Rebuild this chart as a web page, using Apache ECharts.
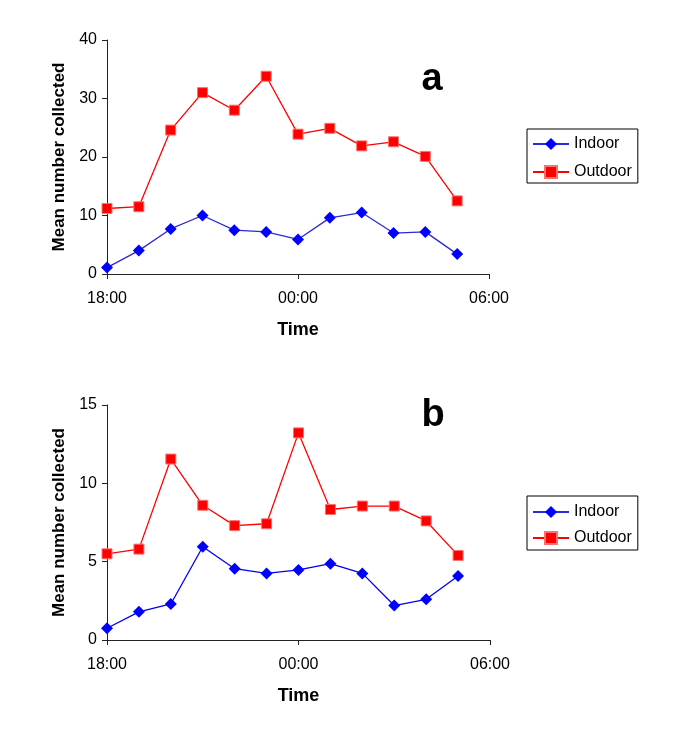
<!DOCTYPE html>
<html>
<head>
<meta charset="utf-8">
<script src="https://cdn.jsdelivr.net/npm/echarts@6/dist/echarts.min.js"></script>
<style>
html,body{margin:0;padding:0;background:#fff;}
#chart{width:685px;height:748px;}
</style>
</head>
<body>
<div id="chart"></div>
<script>
var times = ['18:00','19:00','20:00','21:00','22:00','23:00','00:00','01:00','02:00','03:00','04:00','05:00'];
var xTickLabels = ['18:00','00:00','06:00'];
var indoorA = [1.1, 4.0, 7.7, 10.0, 7.5, 7.2, 5.9, 9.6, 10.5, 7.0, 7.2, 3.4];
var outdoorA = [11.2, 11.5, 24.6, 31.0, 28.0, 33.8, 23.9, 24.9, 21.9, 22.6, 20.1, 12.5];
var indoorB = [0.75, 1.8, 2.3, 5.95, 4.55, 4.25, 4.47, 4.87, 4.25, 2.2, 2.6, 4.08];
var outdoorB = [5.5, 5.8, 11.55, 8.6, 7.3, 7.42, 13.22, 8.33, 8.55, 8.55, 7.6, 5.4];
var seriesNames = ['Indoor', 'Outdoor'];
var panelLabels = ['a', 'b'];
var yTitle = 'Mean number collected';
var xTitle = 'Time';

function hourOffset(t) {
  var h = parseInt(t.split(':')[0], 10);
  return (h - 18 + 24) % 24;
}
function pairs(vals) {
  return vals.map(function (v, i) { return [hourOffset(times[i]), v]; });
}

var FONT = 'Liberation Sans, Arial, sans-serif';
var BLUE = '#0000ff';
var RED = '#ff0000';

function xAxisDef(gi) {
  return {
    type: 'value', gridIndex: gi, min: 0, max: 12, interval: 6,
    name: xTitle, nameLocation: 'middle', nameGap: 47,
    nameTextStyle: {fontFamily: FONT, fontSize: 18, fontWeight: 'bold', color: '#000'},
    axisLine: {show: true, lineStyle: {color: '#222', width: 1}},
    axisTick: {show: true, length: 5, lineStyle: {color: '#222'}},
    axisLabel: {margin: 17, fontFamily: FONT, fontSize: 16, color: '#000',
      formatter: function (v) { return xTickLabels[Math.round(v / 6)]; }},
    splitLine: {show: false}
  };
}
function yAxisDef(gi, max, interval) {
  return {
    type: 'value', gridIndex: gi, min: 0, max: max, interval: interval,
    name: yTitle, nameLocation: 'middle', nameGap: 38,
    nameTextStyle: {fontFamily: FONT, fontSize: 17, fontWeight: 'bold', color: '#000'},
    axisLine: {show: true, lineStyle: {color: '#222', width: 1}},
    axisTick: {show: true, length: 5, lineStyle: {color: '#222'}},
    axisLabel: {margin: 10, fontFamily: FONT, fontSize: 16, color: '#000'},
    splitLine: {show: false}
  };
}
function lineSeries(name, data, gi, isIndoor) {
  return {
    type: 'line', name: name, xAxisIndex: gi, yAxisIndex: gi,
    data: pairs(data),
    symbol: isIndoor ? 'diamond' : 'rect',
    symbolSize: isIndoor ? 12 : 10,
    showAllSymbol: true,
    lineStyle: {color: isIndoor ? (gi === 0 ? '#2b2bd6' : BLUE) : RED, width: 1.3},
    itemStyle: isIndoor ? {color: BLUE, borderWidth: 0} : {color: RED, borderColor: '#ff7070', borderWidth: 1},
    emphasis: {disabled: true},
    animation: false,
    z: isIndoor ? 3 : 2
  };
}
function legendDef(top, pad, gap) {
  return {
    orient: 'vertical', left: 527, top: top,
    data: seriesNames,
    itemWidth: 36, itemHeight: 15, itemGap: gap,
    padding: pad,
    borderColor: '#000', borderWidth: 1,
    textStyle: {fontFamily: FONT, fontSize: 16, color: '#000', lineHeight: 16},
    selectedMode: false
  };
}

var chart = echarts.init(document.getElementById('chart'), null, {renderer: 'canvas'});
chart.setOption({
  backgroundColor: '#fff',
  animation: false,
  grid: [
    {left: 107, top: 40, width: 382, height: 234},
    {left: 107, top: 405, width: 383, height: 235}
  ],
  xAxis: [xAxisDef(0), xAxisDef(1)],
  yAxis: [yAxisDef(0, 40, 10), yAxisDef(1, 15, 5)],
  legend: [legendDef(129, [7, 6, 3, 5], 12), legendDef(496, [8, 6, 4, 5], 10)],
  series: [
    lineSeries(seriesNames[0], indoorA, 0, true),
    lineSeries(seriesNames[1], outdoorA, 0, false),
    lineSeries(seriesNames[0], indoorB, 1, true),
    lineSeries(seriesNames[1], outdoorB, 1, false)
  ],
  graphic: [
    {type: 'text', x: 432, y: 80, style: {text: panelLabels[0], align: 'center', verticalAlign: 'middle', font: 'bold 38px ' + FONT, fill: '#000'}},
    {type: 'text', x: 433, y: 416, style: {text: panelLabels[1], align: 'center', verticalAlign: 'middle', font: 'bold 38px ' + FONT, fill: '#000'}}
  ]
});
</script>
</body>
</html>
